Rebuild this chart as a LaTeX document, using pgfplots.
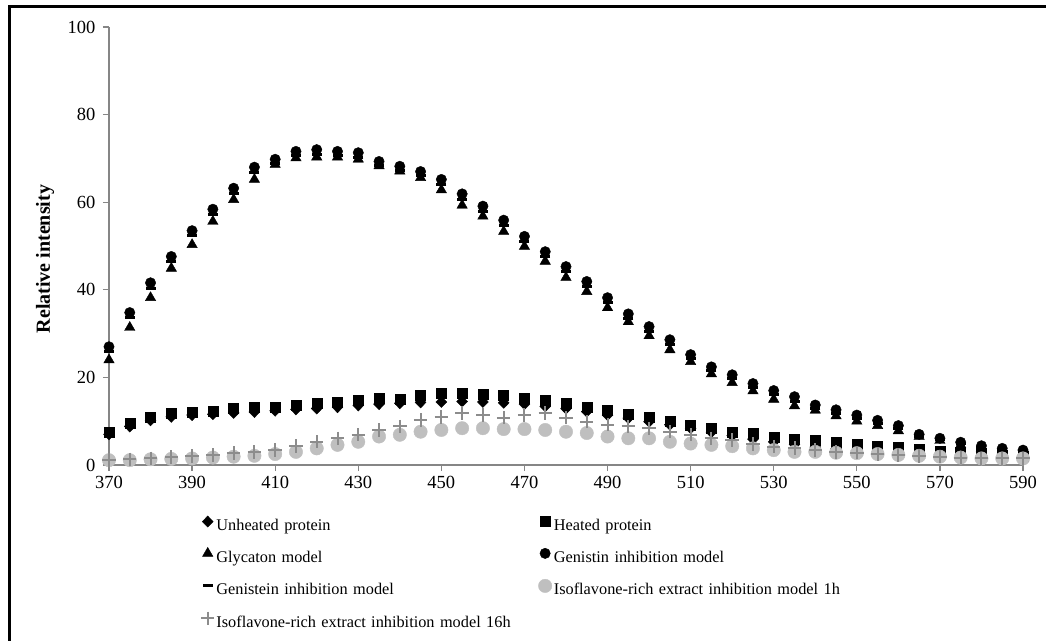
\documentclass[border=0pt]{standalone}
\usepackage{fontspec}
\setmainfont{Liberation Serif}
\usepackage{pgfplots}
\usepackage{pgfplotstable}
\pgfplotsset{compat=1.18}
\definecolor{axgray}{RGB}{134,134,134}
\definecolor{lgray}{RGB}{191,191,191}
\definecolor{pgray}{RGB}{140,140,140}

\pgfplotstableread{
x unh hea gly gnn gns i1 i16
370 7.0 7.6 24.0 27.0 25.9 1.1 1.1
375 8.8 9.6 31.4 34.8 33.6 1.1 1.3
380 10.2 11.0 38.2 41.6 40.4 1.3 1.5
385 11.0 11.9 44.9 47.6 46.4 1.4 1.8
390 11.4 12.1 50.3 53.5 52.3 1.5 2.1
395 11.6 12.3 55.6 58.4 57.2 1.7 2.3
400 11.9 13.0 60.6 63.2 62.0 1.9 2.7
405 12.1 13.1 65.2 68.0 66.8 2.1 3.0
410 12.4 13.3 68.6 69.8 68.8 2.5 3.4
415 12.7 13.7 70.1 71.6 70.6 3.0 4.3
420 12.9 14.2 70.3 72.0 71.0 3.8 5.3
425 13.2 14.4 70.3 71.6 70.6 4.6 6.1
430 13.6 14.9 69.8 71.3 70.3 5.3 6.9
435 13.9 15.3 68.3 69.3 68.3 6.5 8.0
440 14.1 15.0 67.1 68.2 67.2 6.9 8.8
445 14.3 16.0 65.6 67.0 66.0 7.6 10.3
450 14.4 16.4 62.8 65.2 64.0 8.0 11.0
455 14.5 16.5 59.3 61.9 60.7 8.4 11.9
460 14.4 16.2 56.8 59.1 57.9 8.4 11.4
465 14.2 16.0 53.3 55.9 54.7 8.2 10.8
470 13.9 15.3 49.9 52.2 51.0 8.2 11.4
475 13.4 14.9 46.5 48.7 47.5 8.0 11.9
480 12.9 14.2 42.8 45.3 44.1 7.6 10.8
485 12.2 13.3 39.6 41.9 40.7 7.3 9.9
490 11.4 12.6 35.9 38.2 37.0 6.5 9.2
495 10.7 11.7 32.7 34.5 33.5 6.1 8.8
500 9.9 10.8 29.5 31.6 30.5 6.1 8.4
505 9.2 10.1 26.3 28.6 27.5 5.3 7.6
510 8.4 9.2 23.6 25.2 24.3 4.9 6.9
515 7.5 8.5 20.8 22.4 21.5 4.6 6.1
520 6.7 7.6 18.8 20.6 19.7 4.3 5.7
525 5.9 7.2 16.9 18.6 17.8 3.8 4.8
530 5.3 6.4 15.0 17.0 16.0 3.4 4.2
535 4.7 6.0 13.5 15.6 14.6 3.0 3.9
540 4.1 5.6 12.5 13.7 12.9 3.0 3.4
545 3.7 5.2 11.2 12.6 11.8 2.8 3.0
550 3.2 4.7 10.0 11.4 10.6 2.7 2.8
555 2.9 4.4 9.0 10.2 9.5 2.5 2.5
560 2.5 4.0 7.8 9.0 8.3 2.3 2.3
565 2.2 3.6 6.5 7.0 6.6 2.1 2.1
570 1.9 3.2 5.6 6.1 5.8 1.9 1.9
575 1.7 2.9 4.6 5.2 4.9 1.7 1.7
580 1.5 2.6 3.8 4.4 4.1 1.5 1.5
585 1.4 2.3 3.2 3.8 3.5 1.5 1.5
590 1.3 2.0 2.9 3.4 3.1 1.5 1.5
}\data

\begin{document}
\begin{tikzpicture}
\useasboundingbox (0pt,0pt) rectangle (1046pt,640pt);
\draw[line width=3pt] (9pt,-2pt) -- (9pt,633.3pt) -- (1048pt,633.3pt);
\begin{axis}[
  at={(109pt,175pt)}, anchor=south west,
  scale only axis, width=914pt, height=438pt,
  xmin=370, xmax=590, ymin=0, ymax=100,
  xtick={370,390,...,590}, ytick={0,20,...,100},
  axis x line*=bottom, axis y line*=left,
  axis line style={axgray, line width=1.3pt, -},
  tick style={axgray, line width=1.3pt},
  tick align=outside, major tick length=6pt,
  /pgf/number format/assume math mode=true,
  ticklabel style={font=\fontsize{18.5}{20}\selectfont, black},
  xticklabel style={yshift=-2pt},
  yticklabel style={xshift=-4pt},
  ylabel={\bfseries Relative intensity},
  ylabel style={font=\fontsize{20}{22}\selectfont, at={(axis description cs:-0.07,0.47)}, anchor=center},
  clip=false,
  legend columns=2,
  legend cell align=left,
  legend image code/.code={\path (0pt,0pt) (12pt,0pt); \draw[#1] plot coordinates {(6pt,4.5pt)};},
  legend style={draw=none, fill=none, inner sep=0pt, outer sep=0pt,
    at={(axis description cs:0.1007,-0.1164)}, anchor=north west,
    font=\fontsize{16.3}{19}\selectfont,
    nodes={inner sep=0pt, text height=13pt, text depth=4pt},
    row sep=12.8pt,
    /tikz/every odd column/.style={column sep=2pt},
    /tikz/every even column/.style={column sep=0pt, text width=322pt, align=left},
  },
]
\addplot[only marks, mark=diamond*, mark size=5.6, black, mark options={fill=black, xscale=1.3}] table[x=x,y=unh] {\data};
\addlegendentry{Unheated protein}
\addplot[only marks, mark=square*, mark size=5, black, mark options={fill=black}] table[x=x,y=hea] {\data};
\addlegendentry{Heated protein}
\addplot[only marks, mark=triangle*, mark size=6, black, mark options={fill=black}] table[x=x,y=gly] {\data};
\addlegendentry{Glycaton model}
\addplot[only marks, mark=*, mark size=5.2, black, mark options={fill=black}] table[x=x,y=gnn] {\data};
\addlegendentry{Genistin inhibition model}
\addplot[only marks, mark=-, mark size=5, black, mark options={line width=3pt}] table[x=x,y=gns] {\data};
\addlegendentry{Genistein inhibition model}
\addplot[only marks, mark=*, mark size=6.7, lgray, mark options={fill=lgray}] table[x=x,y=i1] {\data};
\addlegendentry{Isoflavone-rich extract inhibition model 1h}
\addplot[only marks, mark=+, mark size=6.7, pgray, mark options={line width=2pt}] table[x=x,y=i16] {\data};
\addlegendentry{Isoflavone-rich extract inhibition model 16h}
\end{axis}
\end{tikzpicture}
\end{document}
